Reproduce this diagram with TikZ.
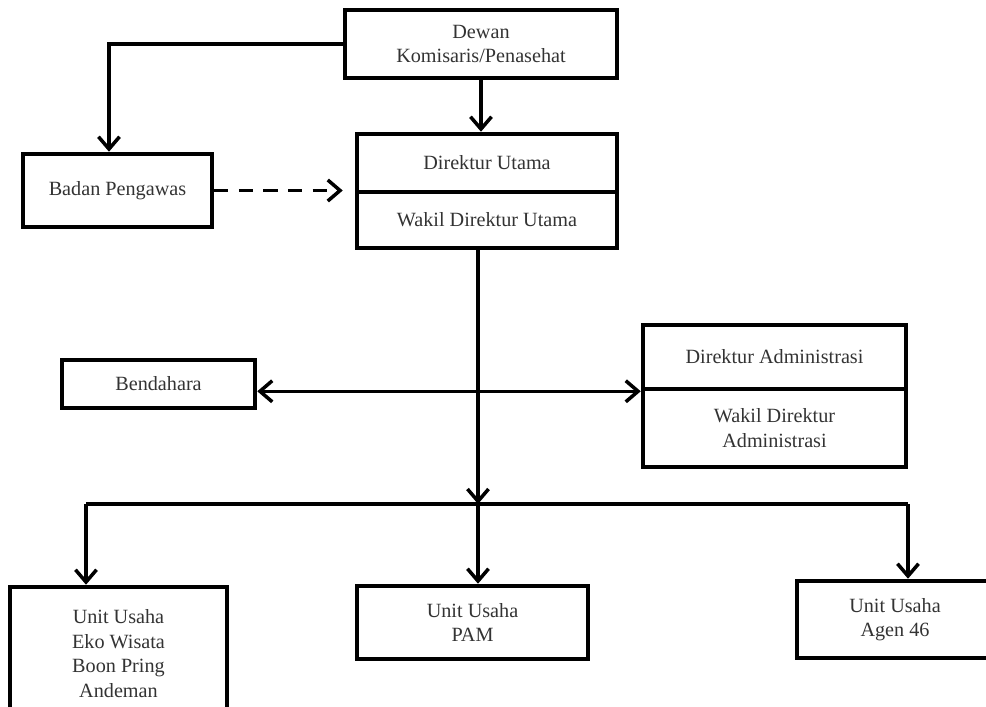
\documentclass[tikz,border=0pt]{standalone}
\usepackage{fontspec}
\setmainfont{Liberation Serif}
\usetikzlibrary{arrows.meta}
\usetikzlibrary{calc}

\begin{document}
\begin{tikzpicture}[x=0.02cm, y=-0.02cm,
	box/.style={draw, line width=2.6pt, rectangle, align=center, inner sep=0pt, text=black!80, font=\fontsize{11.5}{14}\selectfont},
	arr/.style={line width=2pt, -{Straight Barb[length=7pt,width=12pt]}},
	darr/.style={line width=2pt, {Straight Barb[length=7pt,width=12pt]}-{Straight Barb[length=7pt,width=12pt]}}]
	% page 986 x 706 px, 1px = 0.02cm
	\useasboundingbox (0,0) rectangle (986,706);

	% boxes
	\node[box, minimum width=5.44cm, minimum height=1.36cm] (dewan) at (481,44) {Dewan\\Komisaris/Penasehat};
	\node[box, minimum width=3.78cm, minimum height=1.46cm] (badan) at (117.5,190.5) {Badan Pengawas};
	\node[box, minimum width=5.2cm, minimum height=1.16cm] (dirut-top) at (487,163) {Direktur Utama};
	\node[box, minimum width=5.2cm, minimum height=1.12cm] (dirut-bot) at (487,220) {Wakil Direktur Utama};
	\node[box, minimum width=3.86cm, minimum height=0.96cm] (bendahara) at (158.5,384) {Bendahara};
	\node[box, minimum width=5.26cm, minimum height=1.28cm] (diradm-top) at (774.5,357) {Direktur Administrasi};
	\node[box, minimum width=5.26cm, minimum height=1.56cm] (diradm-bot) at (774.5,428) {Wakil Direktur\\Administrasi};
	\node[box, minimum width=4.34cm, minimum height=2.66cm] (eko) at (118.5,653.5) {Unit Usaha\\Eko Wisata\\Boon Pring\\Andeman};
	\node[box, minimum width=4.62cm, minimum height=1.46cm] (pam) at (472.5,622.5) {Unit Usaha\\PAM};
	\node[box, minimum width=3.92cm, minimum height=1.54cm] (agen) at (895,619.5) {Unit Usaha\\Agen 46};

	% bus
	\coordinate (hub) at (478,504);
	\coordinate (busL) at (86,504);
	\coordinate (busR) at (908,504);

	% connectors
	\draw[arr] (dewan.west) -| ([xshift=-0.17cm]badan.north);
	\draw[arr] (dewan) -- (dewan |- dirut-top.north);
	\draw[arr, dashed, dash pattern=on 8pt off 6pt, shorten >=0.24cm] (badan.east) -- (badan.east -| dirut-top.west);
	\draw[arr] (dirut-bot.south -| hub) -- (hub);
	\draw[darr] (bendahara.east |- diradm-top.south) -- (diradm-top.south west);
	\draw[line width=2pt] (busL) -- (busR);
	\draw[arr] (busL) -- (busL |- eko.north);
	\draw[arr] (hub) -- (hub |- pam.north);
	\draw[arr] (busR) -- (busR |- agen.north);
\end{tikzpicture}
\end{document}
